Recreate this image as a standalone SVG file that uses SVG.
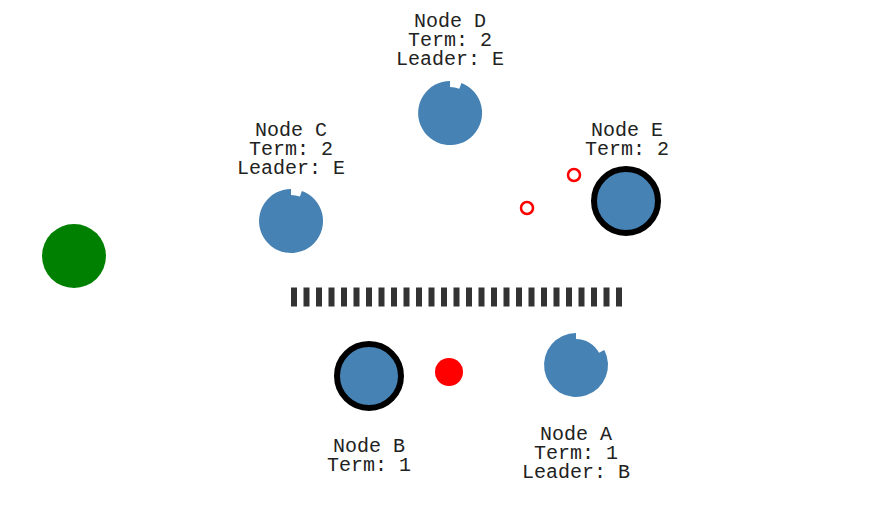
<svg xmlns="http://www.w3.org/2000/svg" width="876" height="519" viewBox="0 0 876 519">
<style>
.node{fill:#4682b4}
.leader{stroke:#000;stroke-width:6}
.lbl{font-family:"Liberation Mono","DejaVu Sans Mono",monospace;font-size:20px;fill:#222;text-anchor:middle}
</style>
<rect width="876" height="519" fill="#fff"/>
<g id="client"><circle cx="74" cy="256" r="32" fill="#008000"/></g>
<g id="connectors">
<line x1="291" y1="297" x2="624" y2="297" stroke="#333" stroke-width="19" stroke-dasharray="6 6.5"/>
</g>
<g id="messages">
<circle cx="449" cy="372" r="14" fill="#f00"/>
<circle cx="527" cy="208" r="6" fill="none" stroke="#f00" stroke-width="2.5"/>
<circle cx="574" cy="175" r="6" fill="none" stroke="#f00" stroke-width="2.5"/>
</g>
<g id="nodeD">
<path class="node" d="M450 81 A32 32 0 1 0 461.5 83.1 L459.3 88.7 A26 26 0 0 0 450 87 Z"/>
<text class="lbl" x="450" y="27">Node D</text>
<text class="lbl" x="450" y="46">Term: 2</text>
<text class="lbl" x="450" y="65">Leader: E</text>
</g>
<g id="nodeC">
<path class="node" d="M291 189 A32 32 0 1 0 301.9 190.9 L299.9 196.6 A26 26 0 0 0 291 195 Z"/>
<text class="lbl" x="291" y="136">Node C</text>
<text class="lbl" x="291" y="155">Term: 2</text>
<text class="lbl" x="291" y="174">Leader: E</text>
</g>
<g id="nodeE">
<circle class="node leader" cx="626" cy="201" r="32" stroke-width="5.5"/>
<text class="lbl" x="627" y="136">Node E</text>
<text class="lbl" x="627" y="155">Term: 2</text>
</g>
<g id="nodeB">
<circle class="node leader" cx="369" cy="376" r="32"/>
<text class="lbl" x="369" y="452">Node B</text>
<text class="lbl" x="369" y="471">Term: 1</text>
</g>
<g id="nodeA">
<path class="node" d="M576 333 A32 32 0 1 0 604.3 350 L599 352.8 A26 26 0 0 0 576 339 Z"/>
<text class="lbl" x="576" y="440">Node A</text>
<text class="lbl" x="576" y="459">Term: 1</text>
<text class="lbl" x="576" y="478">Leader: B</text>
</g>
</svg>
